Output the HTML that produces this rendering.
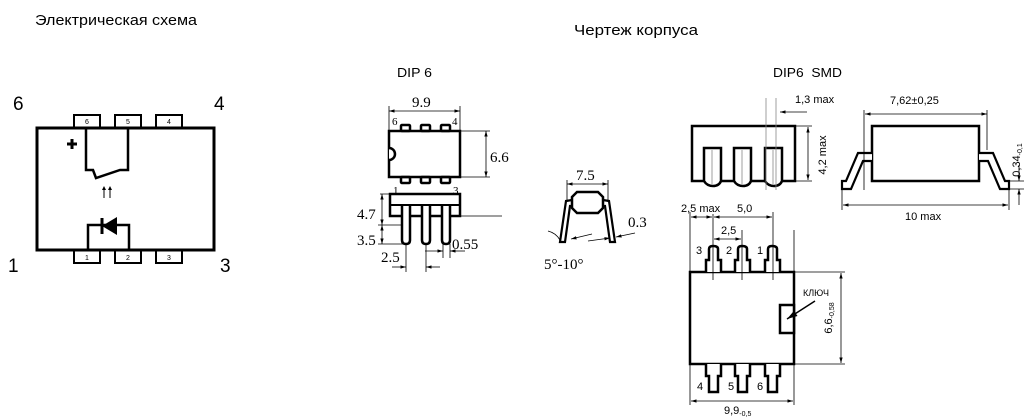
<!DOCTYPE html>
<html><head><meta charset="utf-8"><style>
html,body{margin:0;padding:0;background:#fff;}
svg{display:block}
.s{font-family:"Liberation Sans",sans-serif;}
.r{font-family:"Liberation Serif",serif;}
</style></head><body>
<svg width="1029" height="419" viewBox="0 0 1029 419" xmlns="http://www.w3.org/2000/svg">
<defs>
<marker id="a" viewBox="0 0 10 10" refX="10" refY="5" markerWidth="7" markerHeight="7" orient="auto-start-reverse"><path d="M0,2 L10,5 L0,8 z" fill="#000"/></marker>
</defs>
<g class="s" fill="#000">
<text x="35" y="25" font-size="15" textLength="162" lengthAdjust="spacingAndGlyphs">Электрическая схема</text>
<text x="574" y="35" font-size="15" textLength="124" lengthAdjust="spacingAndGlyphs">Чертеж корпуса</text>
<text x="397" y="77" font-size="13" textLength="35" lengthAdjust="spacingAndGlyphs">DIP 6</text>
<text x="773" y="77" font-size="13" textLength="69" lengthAdjust="spacingAndGlyphs" xml:space="preserve">DIP6  SMD</text>
<text x="13" y="110" font-size="19">6</text>
<text x="214" y="110" font-size="19">4</text>
<text x="8" y="272" font-size="19">1</text>
<text x="220" y="272" font-size="19">3</text>
</g>
<!-- schematic -->
<g fill="none" stroke="#000">
<rect x="37" y="128" width="177" height="122" stroke-width="3"/>
<rect x="74" y="115" width="26" height="13" stroke-width="2"/>
<rect x="115" y="115" width="26" height="13" stroke-width="2"/>
<rect x="156" y="115" width="26" height="13" stroke-width="2"/>
<rect x="74" y="250" width="26" height="13" stroke-width="2"/>
<rect x="115" y="250" width="26" height="13" stroke-width="2"/>
<rect x="156" y="250" width="26" height="13" stroke-width="2"/>
<path d="M86,128 V170 H93 L96,178 L120,170 H128 V128" stroke-width="2.5"/>
<path d="M88,250 V225 H129 V250" stroke-width="2.5"/>
<path d="M104,198 V189 M110,198 V189" stroke-width="1"/>
<path d="M102,218 V234" stroke-width="3"/>
</g>
<path d="M104,186 l-2,4 h4z M110,186 l-2,4 h4z" fill="#000"/>
<path d="M117,217 V235 L102,226 z" fill="#000"/>
<path d="M67,144 h10 M72,139 v10" stroke="#000" stroke-width="3"/>
<g class="s" font-size="7" text-anchor="middle"><text x="87" y="124">6</text><text x="128" y="124">5</text><text x="169" y="124">4</text><text x="87" y="260">1</text><text x="128" y="260">2</text><text x="169" y="260">3</text></g>

<!-- DIP6 top -->
<g fill="none" stroke="#000">
<rect x="389" y="131" width="71" height="46" stroke-width="2.5"/>
<path d="M389,148 a6,6 0 0 1 0,12" stroke-width="2.5" fill="#fff"/>
<g stroke-width="2.5"><rect x="401" y="125" width="9" height="6" rx="1"/><rect x="421" y="125" width="9" height="6" rx="1"/><rect x="441" y="125" width="9" height="6" rx="1"/>
<rect x="401" y="177" width="9" height="6" rx="1"/><rect x="421" y="177" width="9" height="6" rx="1"/><rect x="441" y="177" width="9" height="6" rx="1"/></g>
<g stroke-width="0.8"><path d="M389,106 V131 M460,106 V131 M460,131 H490 M460,177 H490"/>
<line x1="389" y1="111" x2="460" y2="111" marker-start="url(#a)" marker-end="url(#a)"/>
<line x1="486" y1="131" x2="486" y2="177" marker-start="url(#a)" marker-end="url(#a)"/></g>
<!-- side -->
<rect x="390" y="194" width="70" height="22" stroke-width="2.5"/>
<path d="M390,205 H460" stroke-width="2"/>
<g stroke-width="2.5" fill="#fff"><path d="M402,206 V240 q0,4 4,4 q4,0 4,-4 V206"/><path d="M422,206 V240 q0,4 4,4 q4,0 4,-4 V206"/><path d="M442,206 V240 q0,4 4,4 q4,0 4,-4 V206"/></g>
<g stroke-width="0.8"><path d="M460,216 H502 M380,194 H392 M378,225 H402 M378,244 H404 M406,244 V272 M426,244 V272 M443,244 V258 M450,244 V258"/>
<line x1="382" y1="194" x2="382" y2="225" marker-start="url(#a)" marker-end="url(#a)"/>
<line x1="382" y1="225" x2="382" y2="244" marker-start="url(#a)" marker-end="url(#a)"/>
<line x1="392" y1="267" x2="406" y2="267" marker-end="url(#a)"/>
<line x1="440" y1="267" x2="426" y2="267" marker-end="url(#a)"/>
<line x1="425" y1="251" x2="443" y2="251" marker-end="url(#a)"/>
<line x1="465" y1="251" x2="450" y2="251" marker-end="url(#a)"/></g>
<!-- end view -->
<path d="M577,192 H598 L603,197 V208 L598,213 H577 L572,208 V197 z" stroke-width="2.5" fill="#fff"/>
<path d="M572,200 L566,201 L560,242 H565 L570,206 L572,206 M603,200 L609,201 L615,242 H610 L605,206 L603,206" stroke-width="2.2"/>
<g stroke-width="0.8"><path d="M567,180 V202 M608,180 V202"/>
<line x1="567" y1="184" x2="608" y2="184" marker-start="url(#a)" marker-end="url(#a)"/>
<path d="M548,231 q8,2 12,9"/><line x1="592" y1="234" x2="571" y2="239" marker-end="url(#a)"/>
<line x1="588" y1="241" x2="610" y2="238" marker-end="url(#a)"/><line x1="635" y1="233" x2="616" y2="237" marker-end="url(#a)"/></g>
</g>
<g class="r" font-size="15" fill="#000">
<text x="412" y="107">9.9</text><text x="392" y="125" font-size="11">6</text><text x="452" y="125" font-size="11">4</text>
<text x="490" y="162">6.6</text><text x="393" y="194" font-size="11">1</text><text x="453" y="194" font-size="11">3</text>
<text x="357" y="219">4.7</text><text x="357" y="245">3.5</text><text x="452" y="249">0.55</text><text x="381" y="262">2.5</text>
<text x="576" y="180">7.5</text><text x="628" y="227">0.3</text><text x="544" y="269">5°-10°</text>
</g>

<!-- SMD side -->
<g fill="none" stroke="#000">
<rect x="692" y="126" width="103" height="55" stroke-width="2.5"/>
<g stroke-width="2.5" fill="#fff"><path d="M704,181 V148 H721 V181 q-2,5 -8,5 q-6,0 -9,-5"/><path d="M734,181 V148 H751 V181 q-2,5 -8,5 q-6,0 -9,-5"/><path d="M765,181 V148 H782 V181 q-2,5 -8,5 q-6,0 -9,-5"/></g>
<g stroke="#888" stroke-width="0.8"><path d="M712,150 V184 M742,150 V184 M773,150 V184 M766,98 V190 M776,98 V190"/></g>
<g stroke-width="0.8"><line x1="807" y1="112" x2="780" y2="112" marker-end="url(#a)"/>
<path d="M795,126 H812 M795,181 H812"/>
<line x1="808" y1="127" x2="808" y2="180" marker-start="url(#a)" marker-end="url(#a)"/></g>
<!-- SMD end -->
<rect x="872" y="126" width="107" height="55" stroke-width="2.5"/>
<path d="M872,153 H858 L846,181 H842 V189 H851 L863,161 H872" stroke-width="2.2" fill="#fff"/>
<path d="M979,153 H993 L1005,181 H1009 V189 H1000 L988,161 H979" stroke-width="2.2" fill="#fff"/>
<g stroke-width="0.8"><path d="M864,110 V190 M987,110 V150 M842,190 V210 M1009,190 V210 M1005,181 H1024 M1009,189 H1024"/>
<line x1="865" y1="114" x2="987" y2="114" marker-start="url(#a)" marker-end="url(#a)"/>
<line x1="843" y1="205" x2="1008" y2="205" marker-start="url(#a)" marker-end="url(#a)"/>
<line x1="1019" y1="165" x2="1019" y2="181" marker-end="url(#a)"/>
<line x1="1019" y1="205" x2="1019" y2="189" marker-end="url(#a)"/></g>
<!-- SMD top -->
<rect x="690" y="272" width="104" height="92" stroke-width="2.5"/>
<rect x="780" y="305" width="14" height="28" stroke-width="2.5" fill="#fff"/>
<g stroke-width="2.5" fill="#fff">
<path d="M706,272 V260 H709 V249 q0,-3 4,-3 q5,0 5,3 V260 H721 V272"/>
<path d="M735,272 V260 H738 V249 q0,-3 4,-3 q5,0 5,3 V260 H750 V272"/>
<path d="M765,272 V260 H768 V249 q0,-3 4,-3 q5,0 5,3 V260 H780 V272"/>
<path d="M706,364 V376 H709 V392 H718 V376 H721 V364"/>
<path d="M735,364 V376 H738 V392 H747 V376 H750 V364"/>
<path d="M765,364 V376 H768 V392 H777 V376 H780 V364"/></g>
<g stroke-width="0.8"><path d="M690,212 V272 M713,214 V280 M742,230 V280 M773,212 V280 M794,230 V272 M794,272 H845 M794,364 H845 M690,364 V405 M794,364 V405"/>
<line x1="691" y1="217" x2="712" y2="217" marker-start="url(#a)" marker-end="url(#a)"/>
<line x1="714" y1="217" x2="772" y2="217" marker-start="url(#a)" marker-end="url(#a)"/>
<line x1="714" y1="239" x2="741" y2="239" marker-start="url(#a)" marker-end="url(#a)"/>
<line x1="841" y1="273" x2="841" y2="363" marker-start="url(#a)" marker-end="url(#a)"/>
<line x1="691" y1="401" x2="793" y2="401" marker-start="url(#a)" marker-end="url(#a)"/></g>
<line x1="815" y1="301" x2="787" y2="319" stroke-width="1.5" marker-end="url(#a)"/>
</g>
<g class="s" fill="#000" font-size="11">
<text x="795" y="103">1,3 max</text><text x="890" y="104">7,62±0,25</text>
<text transform="translate(826,155) rotate(-90)" text-anchor="middle">4,2 max</text>
<text x="905" y="220">10 max</text>
<text transform="translate(1020,160) rotate(-90)" text-anchor="middle">0,34<tspan font-size="7" dy="2">-0,1</tspan></text>
<text x="681" y="212">2,5 max</text><text x="737" y="212">5,0</text><text x="721" y="234">2,5</text>
<text x="696" y="254">3</text><text x="726" y="254">2</text><text x="757" y="254">1</text>
<text x="697" y="390">4</text><text x="728" y="390">5</text><text x="757" y="390">6</text>
<text x="803" y="296" font-size="9">КЛЮЧ</text>
<text transform="translate(832,318) rotate(-90)" text-anchor="middle">6,6<tspan font-size="7" dy="2">-0,58</tspan></text>
<text x="724" y="414">9,9<tspan font-size="7" dy="2">-0,5</tspan></text>
</g>
</svg>
</body></html>
